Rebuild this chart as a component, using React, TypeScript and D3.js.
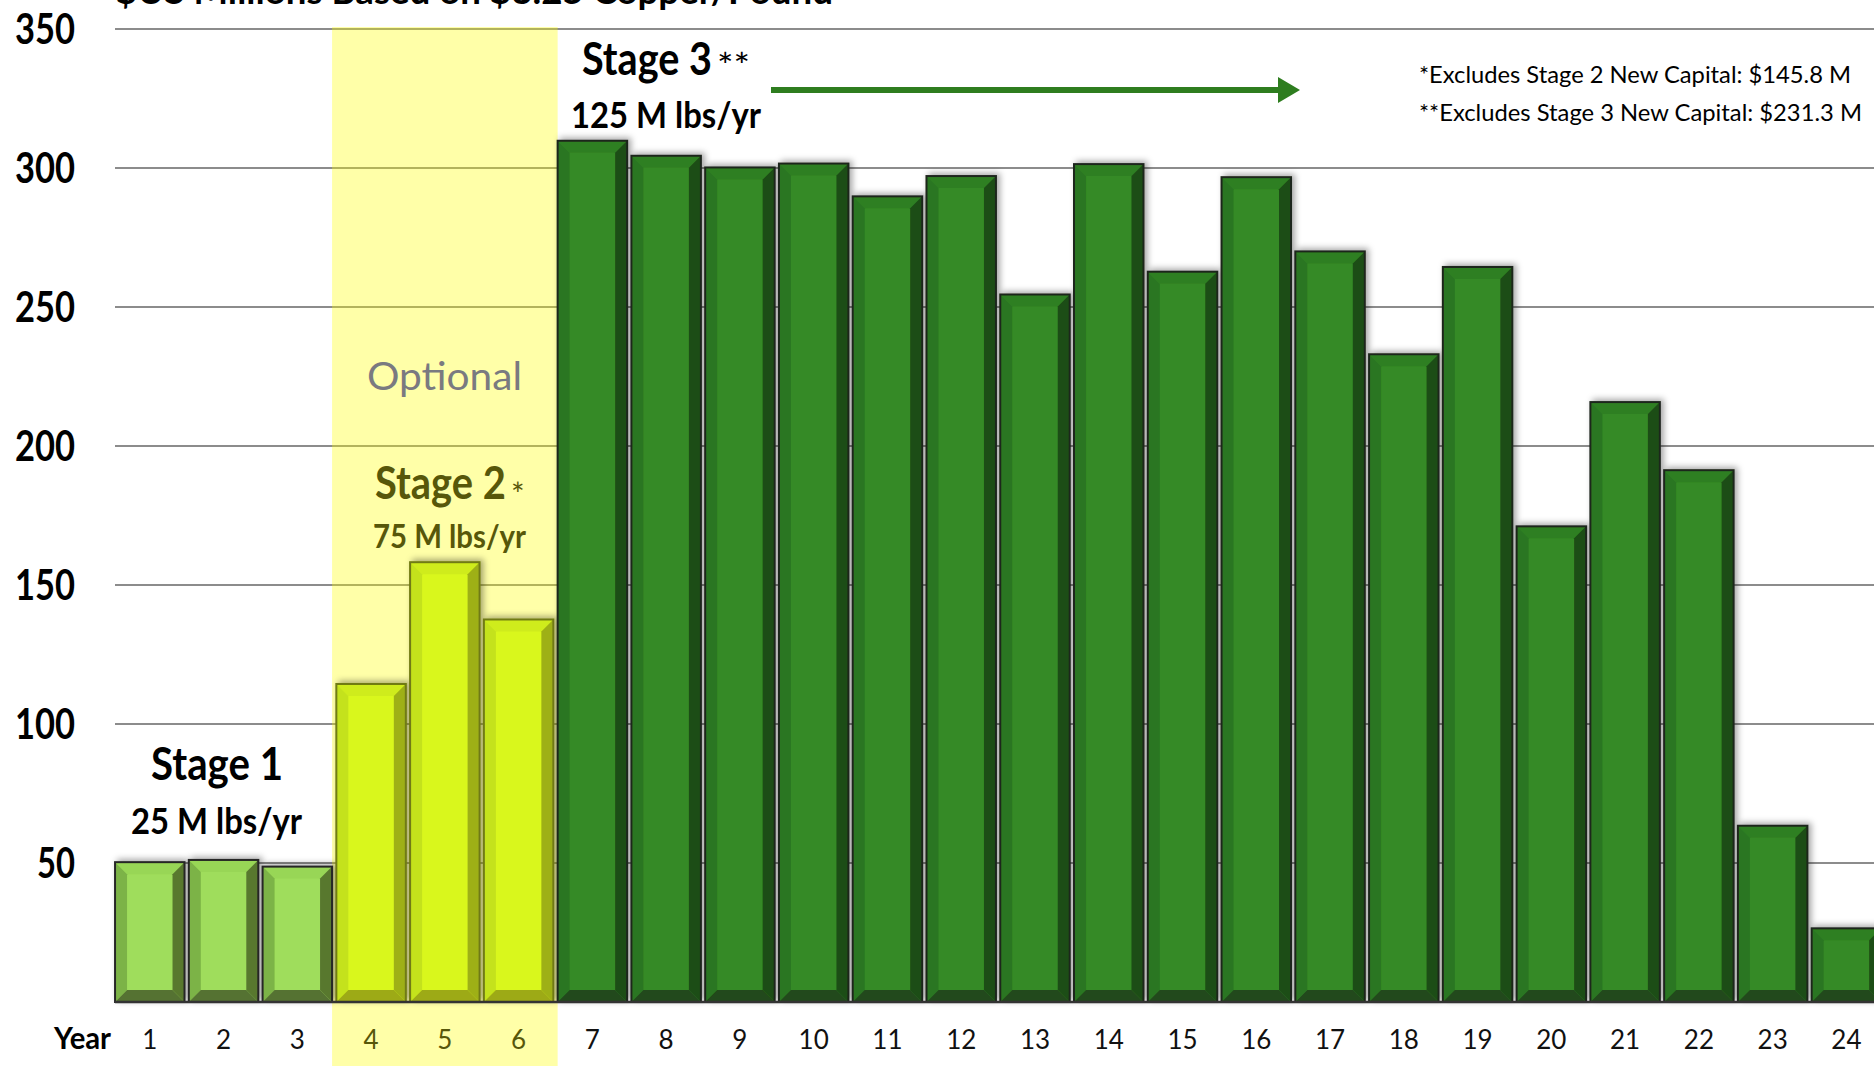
import React, { useEffect, useRef } from 'react';
import * as d3 from 'd3';

const years = ['1', '2', '3', '4', '5', '6', '7', '8', '9', '10', '11', '12', '13', '14', '15', '16', '17', '18', '19', '20', '21', '22', '23', '24'];
const cashFlow = [50.3, 51.1, 48.7, 114.4, 158.2, 137.6, 309.8, 304.4, 300.2, 301.6, 289.8, 297.1, 254.5, 301.4, 262.7, 296.7, 270.0, 233.0, 264.4, 171.1, 215.8, 191.3, 63.4, 26.5];
const stageOf = [1, 1, 1, 2, 2, 2, 3, 3, 3, 3, 3, 3, 3, 3, 3, 3, 3, 3, 3, 3, 3, 3, 3, 3];
const yTicks = [50, 100, 150, 200, 250, 300, 350];
const footnotes = ['*Excludes Stage 2 New Capital: $145.8 M', '**Excludes Stage 3 New Capital: $231.3 M'];

const W = 1874;
const H = 1066;
const FONT = "Lato, 'Open Sans', sans-serif";

// bevel colours per stage: center, top, left, right, bottom, border
const palette: Record<number, string[]> = {
  1: ['#9fdd5b', '#98d656', '#7cb346', '#58782f', '#557232', '#262626'],
  2: ['#d9f71f', '#cfec1c', '#c4e21a', '#9eb014', '#9daa14', '#6f7a12'],
  3: ['#348a25', '#2f7f22', '#2a7622', '#1e4d16', '#214a1a', '#1f261c'],
};

const App = () => {
  const chartRef = useRef<HTMLDivElement>(null);

  useEffect(() => {
    d3.select(chartRef.current).select('svg').remove();

    const svg = d3
      .select(chartRef.current)
      .append('svg')
      .attr('width', W)
      .attr('height', H)
      .style('position', 'absolute')
      .style('left', 0)
      .style('top', 0)
      .style('background', '#fff');

    const x = d3.scaleBand().domain(years).range([112.9, 1883.3]).paddingInner(0.058).paddingOuter(0.029);
    const y = d3.scaleLinear().domain([0, 350]).range([1002, 29]);
    const bw = x.bandwidth();
    const gap = x.step() - bw;

    const defs = svg.append('defs');
    const f = defs.append('filter').attr('id', 'shadow').attr('x', '-20%').attr('y', '-20%').attr('width', '140%').attr('height', '140%');
    f.append('feDropShadow').attr('dx', 3).attr('dy', -2).attr('stdDeviation', 3).attr('flood-color', '#000').attr('flood-opacity', 0.35);

    // title (cut off at the top, as in the original)
    svg.append('text')
      .attr('x', 116).attr('y', 4)
      .attr('font-family', FONT).attr('font-weight', 'bold').attr('font-size', 36)
      .attr('textLength', 717).attr('lengthAdjust', 'spacingAndGlyphs')
      .text('$US Millions Based on $3.25 Copper/Pound');

    // gridlines
    svg.append('g').selectAll('line').data(yTicks).enter().append('line')
      .attr('x1', 115).attr('x2', W)
      .attr('y1', d => y(d)).attr('y2', d => y(d))
      .attr('stroke', '#8c8c8c').attr('stroke-width', 2);

    // optional zone
    const zx0 = (x('4') as number) - gap;
    const zx1 = x('7') as number;
    svg.append('rect')
      .attr('x', zx0).attr('y', 27).attr('width', zx1 - zx0).attr('height', H - 27)
      .attr('fill', '#ffff00').attr('fill-opacity', 0.34);

    // bars
    const b = 12;
    const bars = svg.append('g').selectAll('g').data(cashFlow).enter().append('g')
      .attr('filter', 'url(#shadow)');
    bars.each(function (v, i) {
      const g = d3.select(this);
      const c = palette[stageOf[i]];
      const x0 = x(years[i]) as number;
      const x1 = x0 + bw;
      const y0 = y(v);
      const y1 = y(0);
      const pts = (p: number[][]) => p.map(q => q.join(',')).join(' ');
      g.append('rect').attr('x', x0).attr('y', y0).attr('width', bw).attr('height', y1 - y0).attr('fill', c[0]);
      g.append('polygon').attr('points', pts([[x0, y0], [x1, y0], [x1 - b, y0 + b], [x0 + b, y0 + b]])).attr('fill', c[1]);
      g.append('polygon').attr('points', pts([[x0, y0], [x0 + b, y0 + b], [x0 + b, y1 - b], [x0, y1]])).attr('fill', c[2]);
      g.append('polygon').attr('points', pts([[x1, y0], [x1, y1], [x1 - b, y1 - b], [x1 - b, y0 + b]])).attr('fill', c[3]);
      g.append('polygon').attr('points', pts([[x0, y1], [x1, y1], [x1 - b, y1 - b], [x0 + b, y1 - b]])).attr('fill', c[4]);
      g.append('rect').attr('x', x0).attr('y', y0).attr('width', bw).attr('height', y1 - y0)
        .attr('fill', 'none').attr('stroke', c[5]).attr('stroke-width', 2);
    });

    // baseline
    svg.append('line').attr('x1', 115).attr('x2', W).attr('y1', y(0)).attr('y2', y(0))
      .attr('stroke', '#333').attr('stroke-width', 2.5);

    // y labels (tall, narrow like the original)
    svg.append('g').selectAll('text').data(yTicks).enter().append('text')
      .attr('x', 75).attr('y', d => y(d)).attr('dy', '0.36em')
      .attr('text-anchor', 'end')
      .attr('font-family', FONT).attr('font-weight', 'bold').attr('font-size', 42)
      .attr('textLength', d => (d >= 100 ? 60 : 38)).attr('lengthAdjust', 'spacingAndGlyphs')
      .text(d => d);

    // x labels
    svg.append('text').attr('x', 54).attr('y', 1049)
      .attr('font-family', FONT).attr('font-weight', 'bold').attr('font-size', 31)
      .attr('textLength', 57).attr('lengthAdjust', 'spacingAndGlyphs')
      .text('Year');
    svg.append('g').selectAll('text').data(years).enter().append('text')
      .attr('x', d => (x(d) as number) + bw / 2).attr('y', 1049)
      .attr('text-anchor', 'middle')
      .attr('font-family', FONT).attr('font-size', 26)
      .attr('fill', (d, i) => (stageOf[i] === 2 ? '#57570a' : '#111'))
      .text(d => d);

    // stage annotations
    const label = (tx: number, ty: number, str: string, size: number, color: string, weight: string, len?: number) => {
      const t = svg.append('text').attr('x', tx).attr('y', ty)
        .attr('font-family', FONT).attr('font-weight', weight).attr('font-size', size)
        .attr('fill', color).text(str);
      if (len) t.attr('textLength', len).attr('lengthAdjust', 'spacingAndGlyphs');
      return t;
    };

    label(151, 780, 'Stage 1', 46, '#000', 'bold', 132);
    label(131, 834, '25 M lbs/yr', 37, '#000', 'bold', 171);

    label(367, 390, 'Optional', 38, '#7a7a80', 'normal', 155);
    label(375, 499, 'Stage 2', 46, '#57570a', 'bold', 131);
    label(511, 506, '*', 32, '#57570a', 'normal');
    label(582, 75, 'Stage 3', 46, '#000', 'bold', 130);
    label(717, 78, '**', 34, '#000', 'normal', 33);
    label(373, 548, '75 M lbs/yr', 33, '#57570a', 'bold', 153);
    label(571, 128, '125 M lbs/yr', 37, '#000', 'bold', 190);

    // arrow
    svg.append('line').attr('x1', 771).attr('x2', 1282).attr('y1', 90).attr('y2', 90)
      .attr('stroke', '#2e7d1f').attr('stroke-width', 6);
    svg.append('polygon').attr('points', '1278,77 1300,90 1278,103').attr('fill', '#2e7d1f');

    // footnotes
    svg.append('g').selectAll('text').data(footnotes).enter().append('text')
      .attr('x', 1419).attr('y', (d, i) => 83 + i * 38)
      .attr('font-family', FONT).attr('font-size', 24)
      .attr('textLength', (d, i) => (i === 0 ? 432 : 443)).attr('lengthAdjust', 'spacingAndGlyphs')
      .text(d => d);
  }, []);

  return <div ref={chartRef}></div>;
};

export default App;
